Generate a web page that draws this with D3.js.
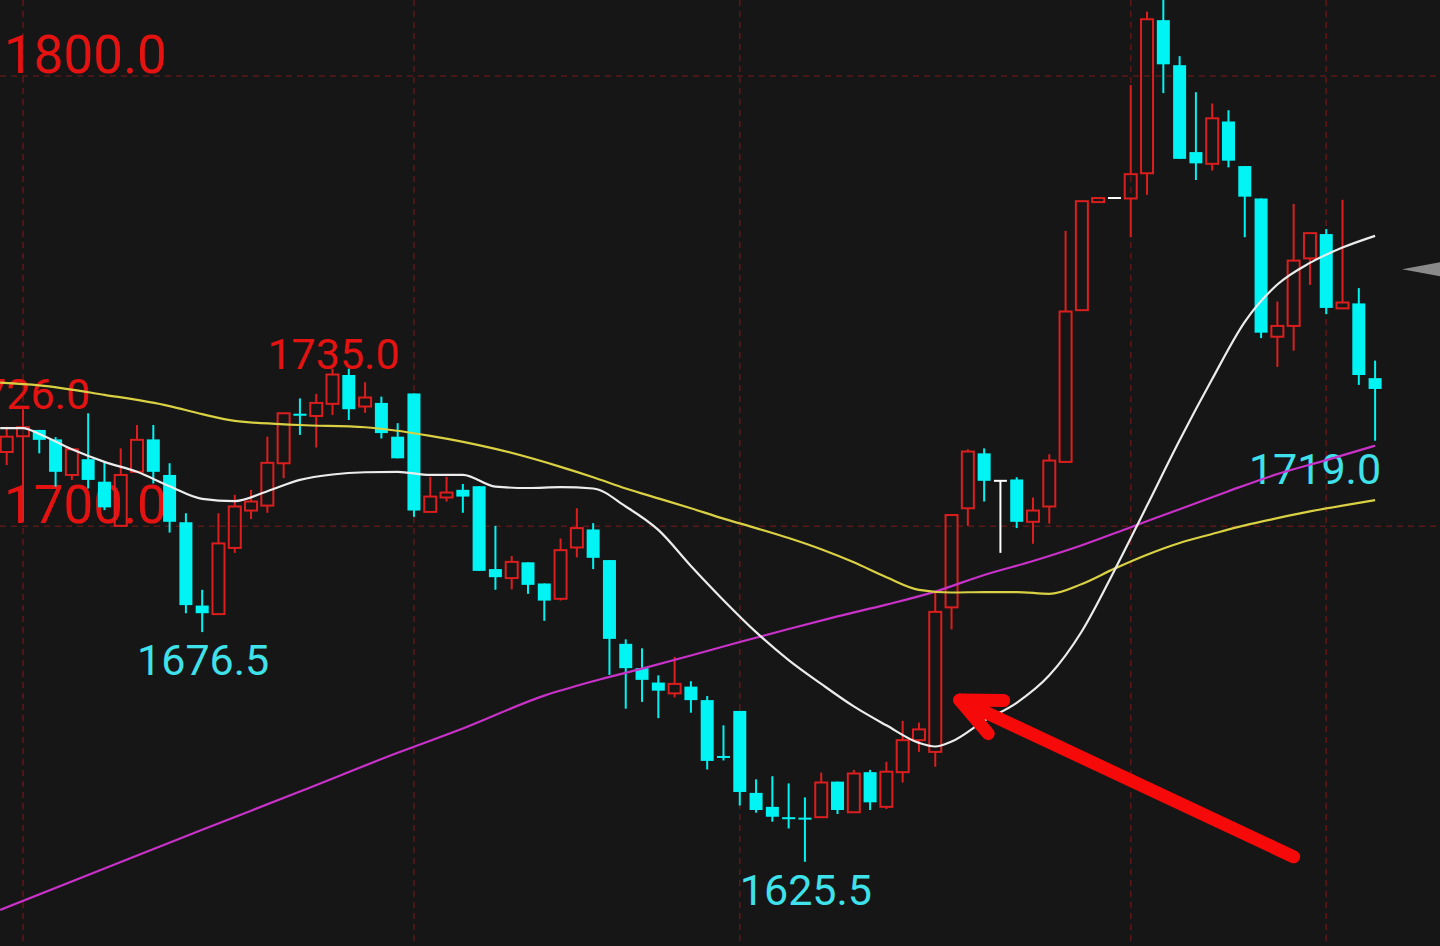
<!DOCTYPE html>
<html>
<head>
<meta charset="utf-8">
<script src="https://cdn.jsdelivr.net/npm/d3@7"></script>
<style>
  html, body { margin: 0; padding: 0; background: #161616; overflow: hidden; }
  svg { display: block; }
</style>
</head>
<body>
<svg></svg>
<script>
  //Candle data, one value per bar
  const opens = [1716.5, 1720.0, 1721.4, 1719.3, 1711.4, 1714.9, 1709.9, 1700.1, 1712.1, 1719.3,
    1711.4, 1700.9, 1682.4, 1680.5, 1695.2, 1703.5, 1704.6, 1714.0, 1725.0, 1724.5,
    1727.2, 1733.6, 1726.6, 1727.4, 1719.9, 1729.5, 1703.2, 1706.4, 1708.1, 1708.9,
    1690.5, 1688.5, 1692.0, 1687.3, 1683.9, 1695.3, 1699.3, 1692.5, 1673.9, 1668.5,
    1665.3, 1662.9, 1664.4, 1661.4, 1649.0, 1659.0, 1640.8, 1637.7, 1635.4, 1635.3,
    1635.4, 1643.3, 1636.5, 1645.4, 1637.7, 1645.4, 1652.5, 1649.9, 1682.0, 1704.0,
    1716.2, 1710.1, 1710.4, 1701.0, 1704.4, 1714.3, 1748.0, 1772.0, 1772.9, 1772.8,
    1778.4, 1812.4, 1802.4, 1783.1, 1780.5, 1789.9, 1780.0, 1772.8, 1742.1, 1744.5,
    1759.5, 1764.9, 1748.4, 1749.5, 1732.9];
  const highs = [1722.1, 1726.0, 1721.4, 1719.8, 1717.1, 1725.1, 1714.3, 1717.3, 1722.5, 1722.5,
    1714.0, 1702.9, 1685.9, 1702.9, 1707.0, 1708.1, 1719.9, 1725.1, 1728.4, 1729.4,
    1735.0, 1735.0, 1732.0, 1728.8, 1722.9, 1729.5, 1711.0, 1711.0, 1709.4, 1708.9,
    1700.1, 1693.4, 1692.0, 1687.3, 1697.3, 1704.0, 1700.7, 1692.5, 1674.9, 1672.9,
    1666.9, 1671.0, 1665.6, 1662.3, 1655.8, 1659.0, 1643.8, 1644.5, 1642.9, 1639.8,
    1645.3, 1643.3, 1645.9, 1645.9, 1647.7, 1656.8, 1656.4, 1685.5, 1702.5, 1717.1,
    1717.3, 1710.1, 1710.9, 1706.4, 1716.0, 1765.6, 1772.2, 1772.9, 1772.9, 1798.0,
    1814.3, 1818.0, 1804.4, 1796.4, 1793.9, 1792.4, 1780.0, 1772.8, 1749.9, 1771.6,
    1765.1, 1766.0, 1772.5, 1752.9, 1736.8];
  const lows = [1713.6, 1701.0, 1716.2, 1708.8, 1710.3, 1708.4, 1703.6, 1700.1, 1712.1, 1709.5,
    1698.6, 1680.7, 1676.5, 1680.5, 1694.1, 1701.6, 1703.0, 1710.7, 1720.3, 1717.5,
    1724.7, 1723.6, 1725.2, 1719.5, 1715.1, 1702.1, 1703.2, 1705.5, 1703.0, 1690.1,
    1685.9, 1686.0, 1685.0, 1679.0, 1683.5, 1693.1, 1690.5, 1667.0, 1659.5, 1661.0,
    1657.4, 1662.0, 1658.6, 1646.0, 1648.0, 1638.0, 1636.4, 1634.4, 1632.9, 1625.5,
    1635.4, 1636.1, 1636.5, 1637.0, 1637.2, 1643.1, 1649.9, 1646.6, 1677.1, 1700.1,
    1705.5, 1694.1, 1699.6, 1696.1, 1700.6, 1714.3, 1748.0, 1772.0, 1772.9, 1764.2,
    1773.6, 1796.2, 1781.6, 1776.9, 1779.0, 1779.7, 1764.2, 1741.8, 1735.4, 1739.0,
    1753.6, 1747.1, 1748.4, 1731.4, 1719.0];
  const closes = [1719.9, 1722.0, 1719.2, 1712.1, 1717.1, 1710.3, 1704.2, 1711.4, 1719.2, 1712.1,
    1701.0, 1682.5, 1680.7, 1696.2, 1704.4, 1705.5, 1714.1, 1725.1, 1724.7, 1727.4,
    1733.7, 1726.0, 1728.6, 1720.7, 1715.1, 1703.5, 1706.6, 1707.5, 1706.6, 1690.1,
    1688.7, 1692.1, 1687.0, 1683.5, 1694.7, 1699.6, 1693.0, 1675.0, 1668.5, 1665.9,
    1663.5, 1665.0, 1661.4, 1647.9, 1648.7, 1641.0, 1637.0, 1635.5, 1635.1, 1635.1,
    1643.1, 1637.0, 1645.1, 1638.7, 1645.5, 1652.5, 1654.9, 1681.0, 1702.5, 1716.6,
    1710.1, 1710.1, 1701.0, 1703.5, 1714.6, 1747.7, 1772.2, 1772.9, 1772.9, 1778.2,
    1812.6, 1802.6, 1781.6, 1780.6, 1790.6, 1781.2, 1773.2, 1743.0, 1744.5, 1759.0,
    1765.1, 1748.5, 1749.7, 1733.6, 1730.5];

  //Moving average lines as [bar index, price]
  const maWhite = [[-0.4, 1721.8], [1, 1721.8], [2, 1720.5], [4, 1717.1], [6, 1714.3], [8, 1712.1],
    [10, 1708.9], [12, 1706.1], [14, 1705.6], [16, 1707.8], [18, 1710.3], [20, 1711.5], [22, 1712.0],
    [24, 1712.1], [26, 1711.4], [28, 1711.4], [30, 1708.8], [32, 1708.5], [34, 1708.7], [36, 1708.4],
    [38, 1704.4], [40, 1699.2], [42, 1691.2], [44, 1683.6], [46, 1676.5], [48, 1670.3], [50, 1665.0],
    [52, 1660.0], [54, 1655.8], [56, 1651.9], [57, 1651.1], [58, 1652.2], [60, 1656.8], [62, 1660.8],
    [64, 1666.9], [66, 1676.7], [68, 1690.2], [70, 1704.6], [72, 1719.1], [74, 1732.7], [76, 1745.4],
    [78, 1753.7], [80, 1758.5], [82, 1761.9], [84, 1764.5]];
  const maYellow = [[-0.4, 1731.9], [2, 1731.3], [6, 1729.2], [10, 1726.7], [12, 1724.9], [14, 1723.4],
    [18, 1722.5], [22, 1722.0], [26, 1720.1], [30, 1717.2], [34, 1713.2], [36, 1710.9], [38, 1708.4],
    [40, 1706.2], [42, 1704.0], [44, 1701.7], [46, 1699.6], [48, 1697.4], [50, 1694.9], [52, 1692.0],
    [54, 1688.7], [56, 1685.9], [58, 1685.3], [60, 1685.4], [62, 1685.4], [64, 1685.0], [66, 1687.2],
    [68, 1690.6], [70, 1693.7], [72, 1696.3], [74, 1698.3], [76, 1700.2], [78, 1701.8], [80, 1703.3],
    [82, 1704.6], [84, 1705.8]];
  const maMagenta = [[-0.4, 1614.8], [6, 1624.0], [12, 1632.6], [18, 1641.1], [24, 1649.7], [28, 1655.1],
    [33, 1662.4], [36, 1665.6], [39, 1668.4], [42, 1671.3], [45, 1674.3], [48, 1677.2], [51, 1680.0],
    [54, 1682.6], [57, 1685.5], [60, 1689.2], [63, 1692.3], [66, 1695.8], [69, 1699.8], [72, 1703.8],
    [75, 1707.8], [78, 1711.6], [81, 1714.7], [84, 1717.9]];

  //Price levels with dashed guides and big labels
  const gridPrices = [1800, 1700];
  //Bars that carry a vertical dashed guide
  const gridBars = [1, 25, 45, 69, 81];

  //Marked highs and lows
  const highMarks = [{bar: 1, price: 1726.0}, {bar: 20, price: 1735.0}];
  const lowMarks = [{bar: 12, price: 1676.5}, {bar: 49, price: 1625.5}, {bar: 84, price: 1719.0}];

  //Grey price pointer at the right edge
  const pointerPrice = 1757.1;

  //Red annotation arrow, tail and tip in bar/price terms
  const arrowFrom = {bar: 79, price: 1626.6};
  const arrowTo = {bar: 58.5, price: 1661.4};

  const width = 1440;
  const height = 946;
  const red = '#dc1e1e';
  const cyan = '#00f4f4';
  const labelRed = '#e51212';
  const labelCyan = '#3fe2ea';
  const font = 'Roboto, "Noto Sans", sans-serif';
  const fmt = d3.format('.1f');

  const svg = d3.select('svg')
    .attr('width', width)
    .attr('height', height);

  svg.append('rect')
    .attr('width', width)
    .attr('height', height)
    .attr('fill', '#161616');

  //Bar index -> x, price -> y
  const x = d3.scaleLinear().domain([0, 84]).range([6.7, 1375.1]);
  const y = d3.scaleLinear().domain([1700, 1800]).range([526.3, 76]);

  const bars = d3.range(opens.length).map(i => ({
    i: i, o: opens[i], h: highs[i], l: lows[i], c: closes[i]
  }));

  //Dashed guide lines
  const grid = svg.append('g').attr('class', 'grid')
    .attr('stroke', '#5a1818')
    .attr('stroke-width', 1.6)
    .attr('stroke-dasharray', '6,5');

  grid.selectAll('line.h')
    .data(gridPrices)
    .enter().append('line')
    .attr('class', 'h')
    .attr('x1', 0).attr('x2', width)
    .attr('y1', d => y(d)).attr('y2', d => y(d));

  grid.selectAll('line.v')
    .data(gridBars)
    .enter().append('line')
    .attr('class', 'v')
    .attr('x1', d => x(d)).attr('x2', d => x(d))
    .attr('y1', 0).attr('y2', height);

  //Big price labels sit above their guide
  svg.append('g')
    .selectAll('text')
    .data(gridPrices)
    .enter().append('text')
    .attr('x', 4)
    .attr('y', d => y(d) - 3)
    .attr('fill', labelRed)
    .attr('font-family', font)
    .attr('font-size', 53)
    .text(d => fmt(d));

  //High / low markers
  svg.append('g')
    .selectAll('text')
    .data(highMarks)
    .enter().append('text')
    .attr('x', d => x(d.bar) + 1)
    .attr('y', d => y(d.price))
    .attr('text-anchor', 'middle')
    .attr('fill', labelRed)
    .attr('font-family', font)
    .attr('font-size', 43)
    .text(d => fmt(d.price));

  svg.append('g')
    .selectAll('text')
    .data(lowMarks)
    .enter().append('text')
    .attr('x', d => d.bar === 84 ? x(d.bar) + 6 : x(d.bar) + 1)
    .attr('y', d => y(d.price) + 43)
    .attr('text-anchor', d => d.bar === 84 ? 'end' : 'middle')
    .attr('fill', labelCyan)
    .attr('font-family', font)
    .attr('font-size', 43)
    .text(d => fmt(d.price));

  //Candles: red hollow when up, cyan solid when down, white when flat
  function barColor(d) {
    if (d.c > d.o) return red;
    if (d.c < d.o) return cyan;
    return '#ffffff';
  }

  const candles = svg.append('g').attr('class', 'candles')
    .selectAll('g')
    .data(bars)
    .enter().append('g');

  //Wicks; up bars get two pieces so the hollow body stays empty
  candles.each(function (d) {
    const g = d3.select(this);
    const cx = x(d.i);
    const col = barColor(d);
    if (d.c > d.o) {
      g.append('line')
        .attr('x1', cx).attr('x2', cx)
        .attr('y1', y(d.h)).attr('y2', y(d.c))
        .attr('stroke', col).attr('stroke-width', 2);
      g.append('line')
        .attr('x1', cx).attr('x2', cx)
        .attr('y1', y(d.o)).attr('y2', y(d.l))
        .attr('stroke', col).attr('stroke-width', 2);
      g.append('rect')
        .attr('x', cx - 6)
        .attr('y', y(d.c))
        .attr('width', 12)
        .attr('height', y(d.o) - y(d.c))
        .attr('fill', 'none')
        .attr('stroke', col)
        .attr('stroke-width', 2);
    } else {
      if (d.h > d.l) {
        g.append('line')
          .attr('x1', cx).attr('x2', cx)
          .attr('y1', y(d.h)).attr('y2', y(d.l))
          .attr('stroke', col).attr('stroke-width', 2);
      }
      if (d.c < d.o) {
        g.append('rect')
          .attr('x', cx - 6.5)
          .attr('y', y(d.o))
          .attr('width', 13)
          .attr('height', Math.max(2, y(d.c) - y(d.o)))
          .attr('fill', col);
      } else {
        g.append('line')
          .attr('x1', cx - 6.5).attr('x2', cx + 6.5)
          .attr('y1', y(d.c)).attr('y2', y(d.c))
          .attr('stroke', col).attr('stroke-width', 2);
      }
    }
  });

  //Moving averages drawn over the candles
  const maLine = d3.line()
    .x(d => x(d[0]))
    .y(d => y(d[1]))
    .curve(d3.curveMonotoneX);

  const maSeries = [
    {pts: maMagenta, color: '#c932c9'},
    {pts: maYellow, color: '#d9d043'},
    {pts: maWhite, color: '#ececec'}
  ];

  svg.append('g').attr('class', 'ma')
    .selectAll('path')
    .data(maSeries)
    .enter().append('path')
    .attr('d', d => maLine(d.pts))
    .attr('fill', 'none')
    .attr('stroke', d => d.color)
    .attr('stroke-width', 2.2);

  //Grey pointer at right edge
  const py = y(pointerPrice);
  svg.append('path')
    .attr('d', `M${width - 38},${py} L${width},${py - 7} L${width},${py + 7} Z`)
    .attr('fill', '#8a8a8a');

  //Red annotation arrow
  const tail = [x(arrowFrom.bar), y(arrowFrom.price)];
  const tip = [x(arrowTo.bar), y(arrowTo.price)];
  const back = Math.atan2(tail[1] - tip[1], tail[0] - tip[0]);
  const barbLen = 44;
  const spread = 24.5 * Math.PI / 180;
  const barbs = [back - spread, back + spread].map(a => [tip[0] + barbLen * Math.cos(a), tip[1] + barbLen * Math.sin(a)]);

  const arrow = svg.append('g')
    .attr('stroke', '#f60909')
    .attr('stroke-width', 13)
    .attr('stroke-linecap', 'round')
    .attr('stroke-linejoin', 'round')
    .attr('fill', 'none');

  arrow.append('line')
    .attr('x1', tail[0]).attr('y1', tail[1])
    .attr('x2', tip[0]).attr('y2', tip[1]);

  arrow.append('path')
    .attr('d', `M${barbs[0][0]},${barbs[0][1]} L${tip[0]},${tip[1]} L${barbs[1][0]},${barbs[1][1]}`);
</script>
</body>
</html>
